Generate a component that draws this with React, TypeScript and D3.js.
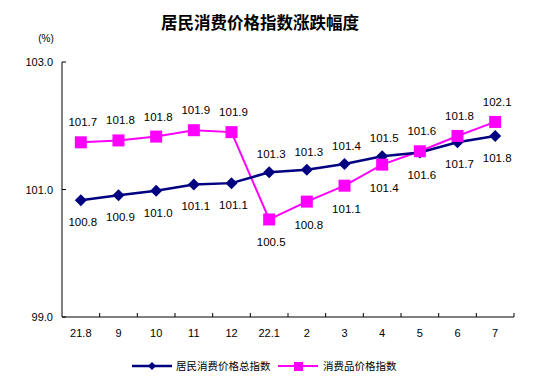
import React from "react";
import * as d3 from "d3";

const categories = ["21.8", "9", "10", "11", "12", "22.1", "2", "3", "4", "5", "6", "7"];
// plotted positions
const cpiValues = [100.83, 100.91, 100.98, 101.08, 101.1, 101.27, 101.31, 101.4, 101.52, 101.58, 101.74, 101.84];
const goodsValues = [101.74, 101.77, 101.83, 101.93, 101.9, 100.53, 100.81, 101.06, 101.39, 101.6, 101.84, 102.06];
// published labels
const cpiLabels = ["100.8", "100.9", "101.0", "101.1", "101.1", "101.3", "101.3", "101.4", "101.5", "101.6", "101.7", "101.8"];
const goodsLabels = ["101.7", "101.8", "101.8", "101.9", "101.9", "100.5", "100.8", "101.1", "101.4", "101.6", "101.8", "102.1"];
const cpiLabelSide = ["b", "b", "b", "b", "b", "a", "a", "a", "a", "b", "b", "b"];
const goodsLabelSide = ["a", "a", "a", "a", "a", "b", "b", "b", "b", "a", "a", "a"];
const yTicks = [99, 101, 103];
const seriesNames = ["居民消费价格总指数", "消费品价格指数"];
const title = "居民消费价格指数涨跌幅度";

const W = 533, H = 381;
const L = 62, R = 514, T = 62, B = 317;
const BLUE = "#000080", PINK = "#FF00FF";
const NUM_FONT = "'Liberation Sans', Arial, sans-serif";
const CJK_FONT = "'Noto Sans CJK SC', sans-serif";

export default function App() {
  const x = d3.scaleBand<string>().domain(categories).range([L, R]).padding(0);
  const y = d3.scaleLinear().domain([99, 103]).range([B, T]);
  const cx = (c: string) => (x(c) as number) + x.bandwidth() / 2;
  const line = d3.line<number>().x((_, i) => cx(categories[i])).y((v) => y(v));
  const boundaries = categories.map((c) => (x(c) as number) + x.bandwidth());

  const diamond = (px: number, py: number, r: number) =>
    `M${px},${py - r}L${px + r},${py}L${px},${py + r}L${px - r},${py}Z`;

  return (
    <svg width={W} height={H} style={{ position: "absolute", left: 0, top: 0, background: "#fff" }}>
      <text x={260} y={29} textAnchor="middle" fontFamily={CJK_FONT} fontWeight="bold" fontSize={16.5} fill="#000">
        {title}
      </text>
      <text x={46} y={42} textAnchor="middle" fontFamily={NUM_FONT} fontSize={10} fill="#000">(%)</text>

      {/* axes */}
      <line x1={L} y1={T} x2={L} y2={B} stroke="#000" strokeWidth={1} />
      <line x1={L} y1={B} x2={R} y2={B} stroke="#000" strokeWidth={1} />
      {yTicks.map((t) => (
        <g key={t}>
          <line x1={L} x2={L + 4} y1={y(t)} y2={y(t)} stroke="#000" />
          <text x={53} y={y(t) + 4} textAnchor="end" fontFamily={NUM_FONT} fontSize={11} fill="#000">
            {t.toFixed(1)}
          </text>
        </g>
      ))}
      {boundaries.map((bx, i) => (
        <line key={i} x1={bx} x2={bx} y1={B} y2={B - 4} stroke="#000" />
      ))}
      {categories.map((c) => (
        <text key={c} x={cx(c)} y={B + 20} textAnchor="middle" fontFamily={NUM_FONT} fontSize={11} fill="#000">
          {c}
        </text>
      ))}

      {/* goods series */}
      <path d={line(goodsValues) || ""} fill="none" stroke={PINK} strokeWidth={2} />
      {/* cpi series */}
      <path d={line(cpiValues) || ""} fill="none" stroke={BLUE} strokeWidth={2.5} />
      {cpiValues.map((v, i) => (
        <path key={"d" + i} d={diamond(cx(categories[i]), y(v), 6)} fill={BLUE} />
      ))}
      {goodsValues.map((v, i) => (
        <rect key={"s" + i} x={cx(categories[i]) - 6} y={y(v) - 6} width={12} height={12} fill={PINK} />
      ))}

      {cpiValues.map((v, i) => (
        <text key={"cl" + i} x={cx(categories[i]) + 2} y={y(v) + (cpiLabelSide[i] === "a" ? -18 : 22) + 4}
          textAnchor="middle" fontFamily={NUM_FONT} fontSize={11.5} fill="#000">
          {cpiLabels[i]}
        </text>
      ))}
      {goodsValues.map((v, i) => (
        <text key={"gl" + i} x={cx(categories[i]) + 2} y={y(v) + (goodsLabelSide[i] === "a" ? -20 : 23) + 4}
          textAnchor="middle" fontFamily={NUM_FONT} fontSize={11.5} fill="#000">
          {goodsLabels[i]}
        </text>
      ))}

      {/* legend */}
      <line x1={132} x2={172} y1={366} y2={366} stroke={BLUE} strokeWidth={2.5} />
      <path d={diamond(152, 366, 4)} fill={BLUE} />
      <text x={176} y={370} fontFamily={CJK_FONT} fontSize={10.5} fill="#000">{seriesNames[0]}</text>
      <line x1={278} x2={318} y1={366} y2={366} stroke={PINK} strokeWidth={2} />
      <rect x={294} y={362} width={9} height={9} fill={PINK} />
      <text x={323} y={370} fontFamily={CJK_FONT} fontSize={10.5} fill="#000">{seriesNames[1]}</text>
    </svg>
  );
}
